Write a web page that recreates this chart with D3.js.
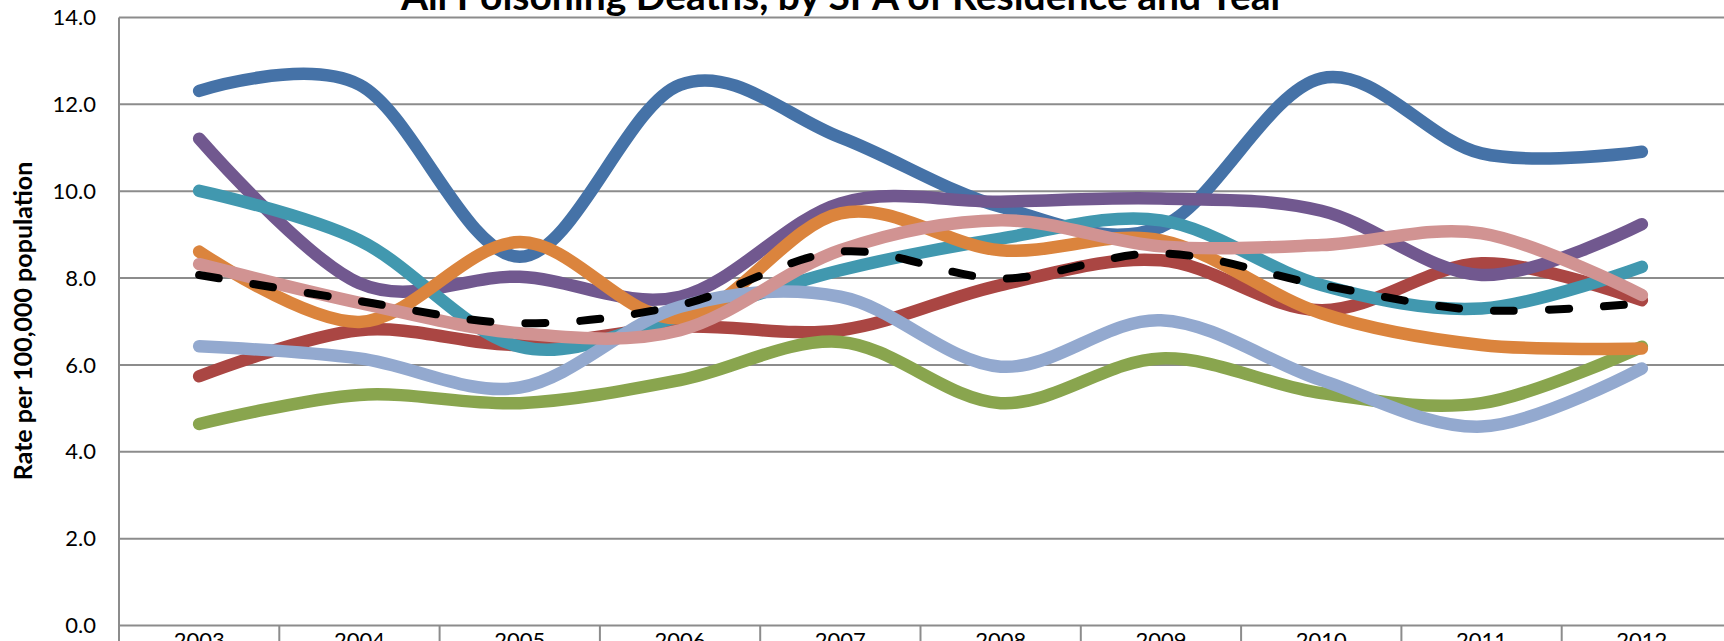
<!DOCTYPE html>
<html>
<head>
<meta charset="utf-8">
<script src="https://cdnjs.cloudflare.com/ajax/libs/d3/7.8.5/d3.min.js"></script>
<style>
body { margin: 0; background: #fff; }
svg { display: block; }
</style>
</head>
<body>
<script>
var width = 1724;
var height = 641;
var plotLeft = 119, plotRight = 1722, plotTop = 17.5, plotBottom = 625.5;

var title = "All Poisoning Deaths, by SPA of Residence and Year"
var yTitle = "Rate per 100,000 population"
var years = ["2003", "2004", "2005", "2006", "2007", "2008", "2009", "2010", "2011", "2012"]
var yTicks = [0, 2, 4, 6, 8, 10, 12, 14]

var names = ["SPA 1", "SPA 2", "SPA 3", "SPA 4", "SPA 5", "SPA 6", "SPA 7", "SPA 8", "LA County"]
var spa1 = [12.31, 12.45, 8.49, 12.45, 11.24, 9.64, 9.18, 12.6, 10.87, 10.91]
var spa2 = [5.74, 6.80, 6.46, 6.88, 6.80, 7.84, 8.41, 7.26, 8.34, 7.49]
var spa3 = [4.64, 5.31, 5.12, 5.65, 6.53, 5.12, 6.15, 5.35, 5.12, 6.42]
var spa4 = [11.21, 7.88, 8.03, 7.57, 9.72, 9.76, 9.83, 9.55, 8.07, 9.24]
var spa5 = [10.01, 8.87, 6.42, 7.11, 8.18, 8.91, 9.33, 7.84, 7.30, 8.26]
var spa6 = [8.61, 6.99, 8.83, 7.08, 9.49, 8.64, 8.87, 7.19, 6.46, 6.38]
var spa7 = [6.43, 6.15, 5.48, 7.34, 7.57, 5.96, 7.03, 5.65, 4.58, 5.92]
var spa8 = [8.32, 7.43, 6.73, 6.80, 8.64, 9.33, 8.73, 8.76, 9.03, 7.61]
var county = [8.07, 7.47, 6.96, 7.38, 8.61, 7.99, 8.57, 7.84, 7.26, 7.42]
var series = [spa1, spa2, spa3, spa4, spa5, spa6, spa7, spa8, county]
var colors = ["#4572A7", "#AA4643", "#89A54E", "#71588F", "#4198AF", "#DB843D", "#93A9CF", "#D19392", "#000000"]

var x = d3.scaleBand()
.domain(years)
.range([plotLeft, plotRight]);

var y = d3.scaleLinear()
.domain([0, 14])
.range([plotBottom, plotTop]);

var svg = d3.select("body").append("svg")
.attr("width", width)
.attr("height", height)
.style("font-family", "Lato, 'Open Sans', sans-serif");

// gridlines
svg.append("g")
.selectAll("line")
.data(yTicks)
.enter().append("line")
.attr("x1", plotLeft)
.attr("x2", plotRight + 2)
.attr("y1", function(d) { return y(d) })
.attr("y2", function(d) { return y(d) })
.attr("stroke", "#8c8c8c")
.attr("stroke-width", 2);

// y axis line
svg.append("line")
.attr("x1", plotLeft).attr("x2", plotLeft)
.attr("y1", plotTop).attr("y2", height)
.attr("stroke", "#8c8c8c")
.attr("stroke-width", 2);

// category separators below the axis
svg.append("g")
.selectAll("line")
.data(years.slice(1))
.enter().append("line")
.attr("x1", function(d) { return x(d) })
.attr("x2", function(d) { return x(d) })
.attr("y1", plotBottom)
.attr("y2", height)
.attr("stroke", "#8c8c8c")
.attr("stroke-width", 2);

// y tick labels
svg.append("g")
.selectAll("text")
.data(yTicks)
.enter().append("text")
.attr("x", 96)
.attr("y", function(d) { return y(d) })
.attr("dy", "0.35em")
.attr("text-anchor", "end")
.style("font-size", "22px")
.text(function(d) { return d3.format(".1f")(d) });

// x tick labels (cut off by the bottom edge, as in the original)
svg.append("g")
.selectAll("text")
.data(years)
.enter().append("text")
.attr("x", function(d) { return x(d) + x.bandwidth() / 2 })
.attr("y", 648)
.attr("text-anchor", "middle")
.style("font-size", "22px")
.text(function(d) { return d });

svg.append("text")
.attr("transform", "translate(32,321) rotate(-90)")
.attr("text-anchor", "middle")
.style("font-size", "25px")
.style("font-weight", "bold")
.text(yTitle);

svg.append("text")
.attr("x", 843)
.attr("y", 9.5)
.attr("text-anchor", "middle")
.style("font-size", "39px")
.style("font-weight", "bold")
.text(title);

var line = d3.line()
.x(function(d, i) { return x(years[i]) + x.bandwidth() / 2 })
.y(function(d) { return y(d) })
.curve(d3.curveCardinal.tension(0));

svg.append("g")
.selectAll("path")
.data(series)
.enter().append("path")
.attr("d", function(d) { return line(d) })
.attr("fill", "none")
.attr("stroke", function(d, i) { return colors[i] })
.attr("stroke-width", function(d, i) { return i == 8 ? 8 : 12.5 })
.attr("stroke-dasharray", function(d, i) { return i == 8 ? "20,35" : null })
.attr("stroke-linecap", "round")
.attr("stroke-linejoin", "round");
</script>
</body>
</html>
